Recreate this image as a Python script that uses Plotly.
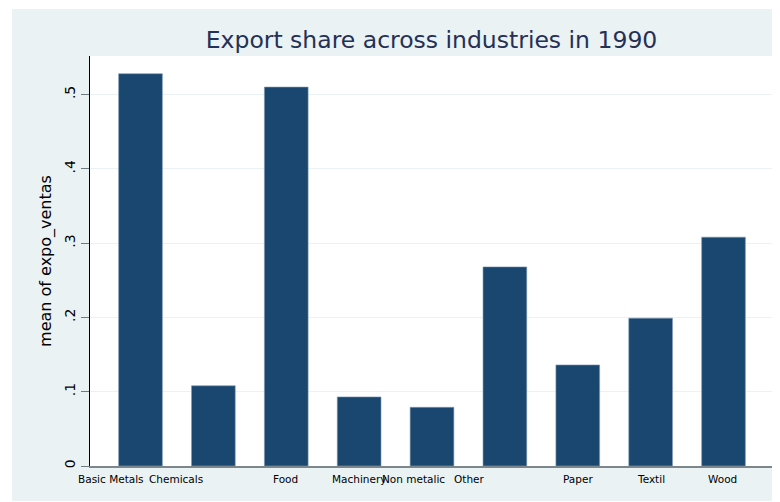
import plotly.graph_objects as go

# ---- data ----
industries = ["Basic Metals", "Chemicals", "Food", "Machinery", "Non metalic",
              "Other", "Paper", "Textil", "Wood"]
mean_expo_ventas = [0.528, 0.108, 0.510, 0.093, 0.079, 0.268, 0.136, 0.199, 0.308]
y_tick_values = [0, 0.1, 0.2, 0.3, 0.4, 0.5]
y_tick_labels = ["0", ".1", ".2", ".3", ".4", ".5"]

# ---- layout helpers (style only) ----
OFF = 8  # page body margin
W, H = 780 - OFF, 502 - OFF
L, R, T, B = 90 - OFF, 7, 56 - OFF, 36
plot_w = W - L - R
plot_h = H - T - B
x_lo, x_hi = -0.693, 8.679
px_per_cat = plot_w / (x_hi - x_lo)
label_shift_px = [-30, -37, -1, 0, -19, -36, 0, 0, -1]

BG = "#eaf2f3"
BAR = "#1a476f"
FONT = "DejaVu Sans"


def px_x(p):
    return (p - OFF - L) / plot_w


def px_y(p):
    return (H - B - (p - OFF)) / plot_h


fig = go.Figure()
fig.add_trace(go.Bar(
    x=list(range(len(industries))),
    y=mean_expo_ventas,
    width=0.6,
    marker=dict(color=BAR, line=dict(color="#7f9ab3", width=0.6)),
    hovertext=industries,
    showlegend=False,
))

annotations = []
for i, name in enumerate(industries):
    annotations.append(dict(
        x=i + label_shift_px[i] / px_per_cat, xref="x",
        y=-13 / plot_h, yref="paper",
        text=name, showarrow=False,
        xanchor="center", yanchor="middle",
        font=dict(family=FONT, size=10.5, color="#000000"),
    ))

white = dict(type="rect", xref="paper", yref="paper", layer="below",
             fillcolor="white", line=dict(width=0))
shapes = [
    dict(white, x0=px_x(0), x1=px_x(12), y0=px_y(510), y1=px_y(0)),
    dict(white, x0=px_x(776), x1=px_x(790), y0=px_y(510), y1=px_y(0)),
    dict(white, x0=px_x(0), x1=px_x(790), y0=px_y(9), y1=px_y(0)),
    dict(white, x0=px_x(0), x1=px_x(790), y0=px_y(510), y1=px_y(501)),
]

fig.update_layout(
    width=W, height=H,
    margin=dict(l=L, r=R, t=T, b=B, pad=0),
    paper_bgcolor=BG,
    plot_bgcolor="white",
    title=dict(
        text="Export share across industries in 1990",
        x=(L + plot_w / 2) / W, xanchor="center", xref="container",
        y=1 - (40 - OFF) / H, yanchor="middle", yref="container",
        font=dict(family=FONT, size=23.5, color="#243056"),
    ),
    xaxis=dict(
        range=[x_lo, x_hi],
        showticklabels=False,
        ticks="",
        showgrid=False,
        zeroline=False,
        showline=True, linecolor="#7b878c", linewidth=1.5,
        fixedrange=True,
    ),
    yaxis=dict(
        range=[0, plot_h / 743.0],
        tickvals=y_tick_values,
        ticktext=y_tick_labels,
        tickangle=-90,
        ticks="outside", ticklen=8, tickcolor="#6f7b80", tickwidth=1,
        tickfont=dict(family=FONT, size=14, color="#000000"),
        showgrid=True, gridcolor=BG, gridwidth=1.2,
        zeroline=False,
        showline=True, linecolor="#000000", linewidth=1,
        title=dict(text="mean of expo_ventas", standoff=6,
                   font=dict(family=FONT, size=16, color="#000000")),
    ),
    shapes=shapes,
    annotations=annotations,
)

fig.write_html("out.html")
